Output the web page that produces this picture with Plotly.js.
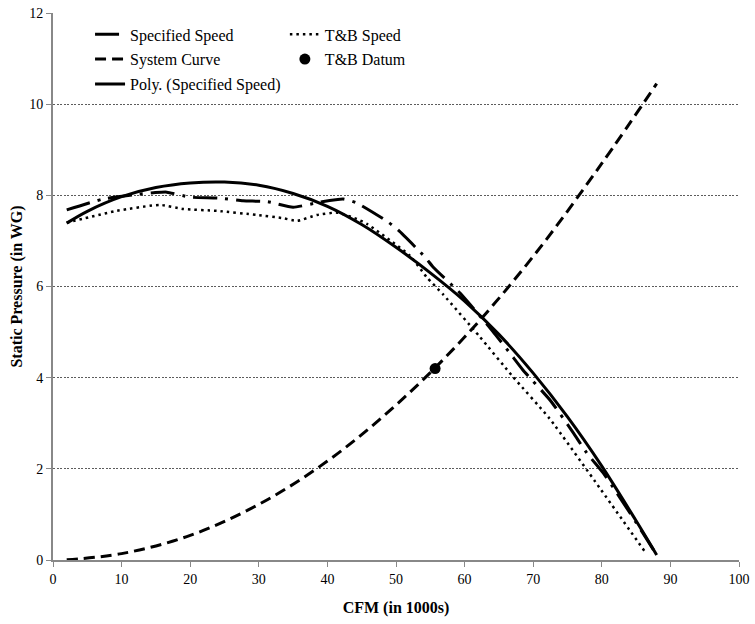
<!DOCTYPE html>
<html><head><meta charset="utf-8">
<script src="https://cdn.plot.ly/plotly-3.0.1.min.js"></script>
<style>html,body{margin:0;padding:0;background:#fff}#c{width:755px;height:624px}</style>
</head><body><div id="c"></div>
<script>
// Specified Speed (dash-dot)
const specX = [2, 7.3, 11.7, 14.9, 16.6, 20.0, 24.1, 27.7, 31.3, 35.0, 38.9, 42.3, 44.3, 48.8, 50.3, 54.2, 55.4, 59.3, 64.1, 66.6, 68.5, 72.5, 75.8, 77.8, 80.2, 82.2, 86.0, 88.0];
const specY = [7.68, 7.92, 8.01, 8.06, 8.07, 7.96, 7.94, 7.88, 7.86, 7.74, 7.85, 7.92, 7.83, 7.42, 7.24, 6.65, 6.43, 5.86, 5.02, 4.54, 4.17, 3.5, 2.8, 2.35, 1.91, 1.47, 0.59, 0.11];
// T&B Speed (dotted)
const tbX = [2, 9.3, 15.6, 19.0, 23.9, 29.7, 33.5, 35.6, 38.5, 41.4, 44.3, 45.8, 52.0, 54.5, 56.9, 62.2, 67.1, 72.4, 79.7, 86.3];
const tbY = [7.4, 7.66, 7.79, 7.70, 7.66, 7.57, 7.50, 7.44, 7.57, 7.62, 7.48, 7.37, 6.68, 6.2, 5.82, 4.9, 4.01, 3.1, 1.58, 0.18];
// System Curve (dashed)
const sysX = [2, 10, 20, 30, 40, 50, 60, 70, 80, 88];
const sysY = [0.005, 0.14, 0.54, 1.22, 2.17, 3.40, 4.89, 6.66, 8.70, 10.45];
// Poly. (Specified Speed)
const polyX = [2, 5, 10, 15, 20, 25, 30, 35, 40, 45, 50, 55, 60, 65, 70, 75, 80, 85, 88];
const polyY = [7.39, 7.65, 7.97, 8.17, 8.27, 8.29, 8.22, 8.04, 7.76, 7.36, 6.86, 6.3, 5.68, 4.95, 4.1, 3.14, 2.06, 0.86, 0.11];
// T&B Datum
const datumX = [55.7];
const datumY = [4.2];

const serif = "'Liberation Serif', 'Times New Roman', Times, serif";
const traces = [
  {x: specX, y: specY, name: 'Specified Speed', mode: 'lines', line: {color: '#000', width: 3, dash: '24px,8px,3px,8px', shape: 'spline', smoothing: 0.5}, legend: 'legend', legendgroup: 'a'},
  {x: sysX, y: sysY, name: 'System Curve', mode: 'lines', line: {color: '#000', width: 3, dash: '11px,6px', shape: 'spline'}, legend: 'legend', legendgroup: 'b'},
  {x: polyX, y: polyY, name: 'Poly. (Specified Speed)', mode: 'lines', line: {color: '#000', width: 3, shape: 'spline', smoothing: 1}, legend: 'legend', legendgroup: 'c'},
  {x: tbX, y: tbY, name: 'T&B Speed', mode: 'lines', line: {color: '#000', width: 2.5, dash: '2.5px,4px', shape: 'spline', smoothing: 0.5}, legend: 'legend2', legendgroup: 'd'},
  {x: datumX, y: datumY, name: 'T&B Datum', mode: 'markers', marker: {color: '#000', size: 11}, legend: 'legend2', legendgroup: 'e'}
];
const legendCommon = {font: {family: serif, size: 16, color: '#000'}, bgcolor: 'rgba(0,0,0,0)', borderwidth: 0, tracegroupgap: 1, traceorder: 'grouped', xanchor: 'left', yanchor: 'top'};
const layout = {
  width: 755, height: 624,
  margin: {l: 53, r: 16, t: 13, b: 64},
  paper_bgcolor: '#fff', plot_bgcolor: '#fff',
  showlegend: true,
  legend: Object.assign({x: 0.054, y: 0.992}, legendCommon),
  legend2: Object.assign({x: 0.338, y: 0.992}, legendCommon),
  xaxis: {
    range: [0, 100], dtick: 10, tick0: 0,
    showgrid: false, zeroline: false,
    showline: true, linecolor: '#888', linewidth: 2,
    ticks: 'outside', ticklen: 5, tickcolor: '#888', tickwidth: 1,
    tickfont: {family: serif, size: 14, color: '#000'},
    title: {text: '<b>CFM (in 1000s)</b>', font: {family: serif, size: 16, color: '#000'}, standoff: 16}
  },
  yaxis: {
    range: [0, 12], dtick: 2, tick0: 0,
    showgrid: true, gridcolor: '#333', gridwidth: 0.8, griddash: '2px,1.5px',
    zeroline: false,
    showline: true, linecolor: '#888', linewidth: 2,
    ticks: 'outside', ticklen: 5, tickcolor: '#888', tickwidth: 1,
    tickfont: {family: serif, size: 14, color: '#000'},
    title: {text: '<b>Static Pressure (in WG)</b>', font: {family: serif, size: 16, color: '#000'}, standoff: 3}
  }
};
Plotly.newPlot('c', traces, layout, {displayModeBar: false, staticPlot: true});
</script></body></html>
